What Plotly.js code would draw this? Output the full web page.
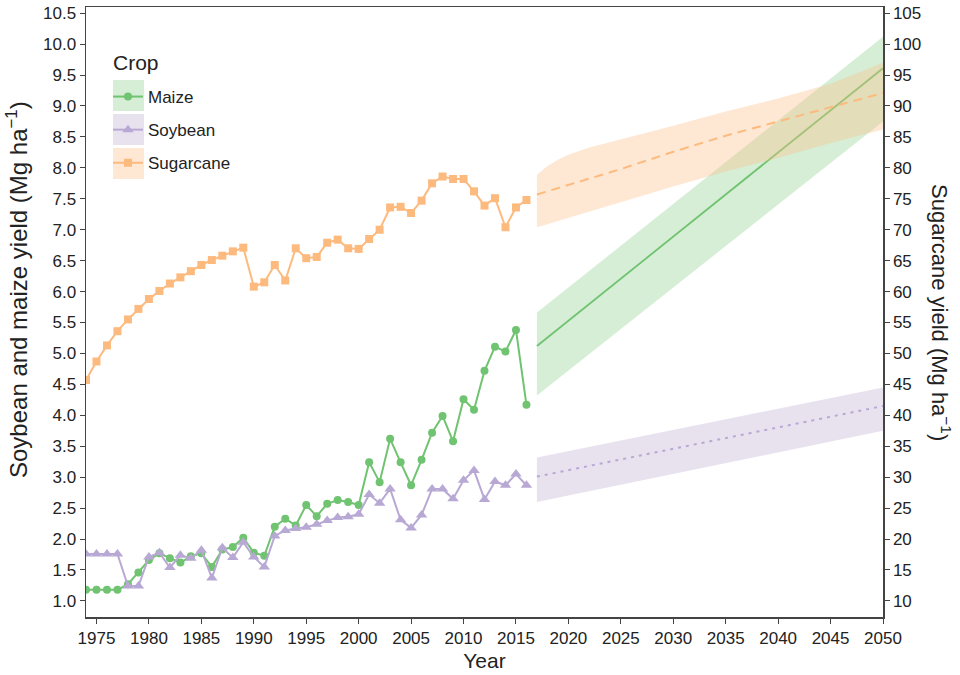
<!DOCTYPE html>
<html>
<head>
<meta charset="utf-8">
<script src="https://cdn.plot.ly/plotly-3.0.1.min.js"></script>
<style>html,body{margin:0;padding:0;background:#fff;}#chart{width:960px;height:675px;}</style>
</head>
<body>
<div id="chart"></div>
<script>
// ---- Observed data (1974-2016) ----
const years = [1974,1975,1976,1977,1978,1979,1980,1981,1982,1983,1984,1985,1986,1987,1988,1989,1990,1991,1992,1993,1994,1995,1996,1997,1998,1999,2000,2001,2002,2003,2004,2005,2006,2007,2008,2009,2010,2011,2012,2013,2014,2015,2016];
const maize = [1.18,1.18,1.18,1.18,1.27,1.46,1.66,1.77,1.69,1.62,1.72,1.77,1.55,1.83,1.87,2.02,1.78,1.73,2.20,2.33,2.22,2.55,2.37,2.57,2.63,2.60,2.55,3.24,2.92,3.62,3.24,2.87,3.28,3.72,3.99,3.58,4.26,4.09,4.72,5.11,5.03,5.38,4.17];
const soybean = [1.76,1.76,1.76,1.76,1.24,1.24,1.71,1.78,1.54,1.74,1.69,1.82,1.37,1.86,1.70,1.95,1.71,1.55,2.05,2.14,2.17,2.19,2.24,2.30,2.35,2.36,2.40,2.72,2.58,2.81,2.31,2.18,2.39,2.81,2.81,2.65,2.95,3.11,2.64,2.93,2.87,3.05,2.87];
const sugarcane = [45.7,48.7,51.3,53.6,55.5,57.2,58.8,60.1,61.3,62.3,63.3,64.3,65.1,65.8,66.5,67.1,60.8,61.5,64.3,61.8,67.0,65.4,65.6,67.9,68.4,67.0,66.9,68.5,70.0,73.6,73.7,72.7,74.7,77.5,78.6,78.2,78.2,76.2,73.9,75.1,70.4,73.6,74.8];

// ---- Projections (2017-2050) ----
const projYearsLin = [2017, 2050];
const maizeProj = [5.12, 9.61];
const maizeUpper = [5.66, 10.12];
const maizeLower = [4.32, 8.75];
const soyProj = [3.01, 4.15];
const soyUpper = [3.32, 4.45];
const soyLower = [2.60, 3.75];
const projYearsSc = [2017, 2018, 2019, 2020, 2022, 2025, 2030, 2035, 2040, 2045, 2050];
const sugarProj = [75.7, 76.2, 76.7, 77.2, 78.2, 79.8, 82.6, 85.2, 87.5, 89.8, 92.1];
const sugarUpper = [78.9, 80.3, 81.3, 82.1, 83.3, 84.6, 86.8, 89.1, 91.2, 93.6, 97.0];
const sugarLower = [70.4, 70.9, 71.4, 71.9, 72.9, 74.4, 77.0, 79.4, 81.6, 84.0, 86.2];

// ---- Tick labels ----
const xTicks = [1975,1980,1985,1990,1995,2000,2005,2010,2015,2020,2025,2030,2035,2040,2045,2050];
const yTicks = [1.0,1.5,2.0,2.5,3.0,3.5,4.0,4.5,5.0,5.5,6.0,6.5,7.0,7.5,8.0,8.5,9.0,9.5,10.0,10.5];
const y2Ticks = [10,15,20,25,30,35,40,45,50,55,60,65,70,75,80,85,90,95,100,105];
const crops = ['Maize', 'Soybean', 'Sugarcane'];

const colMaize = '#70c370', colSoy = '#b8a8d4', colSugar = '#fdba7e';
const fillMaize = 'rgba(127,201,127,0.32)', fillSoy = 'rgba(190,174,212,0.36)', fillSugar = 'rgba(253,192,134,0.36)';

function band(xs, up, lo, fill, yaxis) {
  return {
    x: xs.concat(xs.slice().reverse()),
    y: up.concat(lo.slice().reverse()),
    type: 'scatter', mode: 'lines', fill: 'toself', fillcolor: fill,
    line: {width: 0, color: 'rgba(0,0,0,0)'},
    hoverinfo: 'skip', showlegend: false, yaxis: yaxis
  };
}

const data = [
  band(projYearsSc, sugarUpper, sugarLower, fillSugar, 'y2'),
  band(projYearsLin, maizeUpper, maizeLower, fillMaize, 'y'),
  band(projYearsLin, soyUpper, soyLower, fillSoy, 'y'),
  {x: projYearsSc, y: sugarProj, type: 'scatter', mode: 'lines', yaxis: 'y2', showlegend: false,
   line: {color: colSugar, width: 2, dash: '9px,6px'}},
  {x: projYearsLin, y: maizeProj, type: 'scatter', mode: 'lines', showlegend: false,
   line: {color: colMaize, width: 1.8}},
  {x: projYearsLin, y: soyProj, type: 'scatter', mode: 'lines', showlegend: false,
   line: {color: colSoy, width: 2, dash: '3px,5px'}},
  {x: years, y: maize, type: 'scatter', mode: 'lines+markers', name: crops[0], legendgroup: 'a',
   line: {color: colMaize, width: 2}, marker: {symbol: 'circle', size: 8, color: colMaize}},
  {x: years, y: soybean, type: 'scatter', mode: 'lines+markers', name: crops[1], legendgroup: 'b',
   line: {color: colSoy, width: 2}, marker: {symbol: 'triangle-up', size: 10, color: colSoy}},
  {x: years, y: sugarcane, type: 'scatter', mode: 'lines+markers', name: crops[2], legendgroup: 'c', yaxis: 'y2',
   line: {color: colSugar, width: 2}, marker: {symbol: 'square', size: 8, color: colSugar}}
];

const L = 86, R = 77, T = 7, B = 58, W = 960, H = 675;
const pw = W - L - R, ph = H - T - B;
const px = v => (v - L) / pw;
const py = v => 1 - (v - T) / ph;

const keyFills = [fillMaize, fillSoy, fillSugar];
const keyTops = [80, 114, 148];
const shapes = keyTops.map((t, i) => ({
  type: 'rect', xref: 'paper', yref: 'paper', layer: 'above',
  x0: px(113), x1: px(144), y0: py(t), y1: py(t + 31),
  fillcolor: keyFills[i], line: {width: 0}
}));

const axisCol = '#444';
const layout = {
  width: W, height: H,
  margin: {l: L, r: R, t: T, b: B},
  paper_bgcolor: '#fff', plot_bgcolor: '#fff',
  font: {family: 'Liberation Sans, Arial, sans-serif', color: '#222'},
  showlegend: true,
  legend: {
    x: px(108), y: py(79), xanchor: 'left', yanchor: 'top',
    bgcolor: 'rgba(0,0,0,0)', tracegroupgap: 8,
    font: {size: 17, color: '#222'},
    itemwidth: 30
  },
  xaxis: {
    range: [1974, 2050], tickvals: xTicks, ticktext: xTicks.map(String),
    showgrid: false, zeroline: false, showline: true, linecolor: axisCol, linewidth: 1.5, mirror: true,
    ticks: 'outside', ticklen: 5, tickcolor: axisCol,
    tickfont: {family: 'Liberation Sans Narrow, Liberation Sans, Arial', size: 17, color: '#222'},
    title: {text: 'Year', font: {family: 'Liberation Sans Narrow, Liberation Sans, Arial', size: 21, color: '#222'}, standoff: 6}
  },
  yaxis: {
    range: [0.74, 10.60], tickvals: yTicks, ticktext: yTicks.map(v => v.toFixed(1)),
    showgrid: false, zeroline: false, showline: true, linecolor: axisCol, linewidth: 1.5,
    ticks: 'outside', ticklen: 5, tickcolor: axisCol,
    tickfont: {size: 17, color: '#222'}
  },
  yaxis2: {
    overlaying: 'y', side: 'right', range: [7.4, 106.0], tickvals: y2Ticks, ticktext: y2Ticks.map(String),
    showgrid: false, zeroline: false, showline: true, linecolor: axisCol, linewidth: 1.5,
    ticks: 'outside', ticklen: 5, tickcolor: axisCol,
    tickfont: {size: 17, color: '#222'}
  },
  shapes: shapes,
  annotations: [
    {text: 'Crop', xref: 'paper', yref: 'paper', x: px(111), y: py(63), xanchor: 'left', yanchor: 'middle',
     showarrow: false, font: {size: 21, color: '#222'}},
    {text: 'Soybean and maize yield (Mg ha<sup>−1</sup>)', xref: 'paper', yref: 'paper',
     x: px(17), y: py(290), xanchor: 'center', yanchor: 'middle', textangle: -90, showarrow: false,
     font: {size: 24, color: '#222'}},
    {text: 'Sugarcane yield (Mg ha<sup>−1</sup>)', xref: 'paper', yref: 'paper',
     x: px(941), y: py(312), xanchor: 'center', yanchor: 'middle', textangle: 90, showarrow: false,
     font: {size: 22, color: '#222'}}
  ]
};

Plotly.newPlot('chart', data, layout, {displayModeBar: false, staticPlot: true});
</script>
</body>
</html>
